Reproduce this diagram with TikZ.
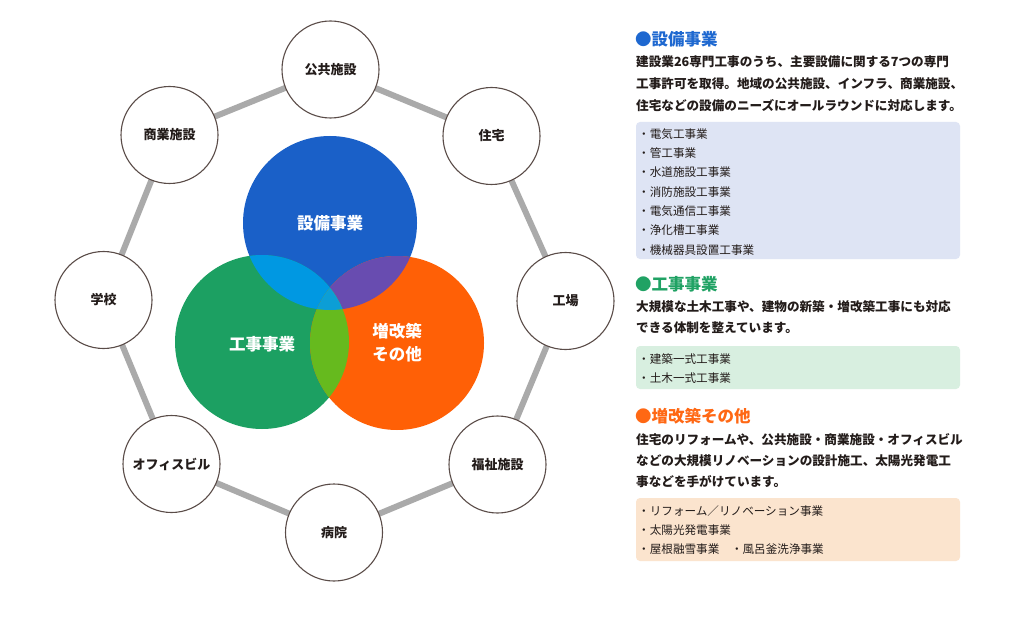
\documentclass[tikz,border=0pt]{standalone}
\usepackage{fontspec}
\setmainfont{Noto Sans CJK JP}
\definecolor{cblue}{RGB}{26,96,200}
\definecolor{cgreen}{RGB}{28,160,98}
\definecolor{corange}{RGB}{255,96,6}
\definecolor{cbg}{RGB}{0,152,226}
\definecolor{cbo}{RGB}{104,76,176}
\definecolor{cgo}{RGB}{102,186,30}
\definecolor{cmid}{RGB}{12,158,214}
\definecolor{cborder}{RGB}{90,76,72}
\definecolor{clink}{RGB}{170,170,170}
\definecolor{ctext}{RGB}{35,28,26}
\definecolor{hblue}{RGB}{30,104,208}
\definecolor{hgreen}{RGB}{32,162,100}
\definecolor{horange}{RGB}{255,104,20}
\definecolor{bxblue}{RGB}{222,228,244}
\definecolor{bxgreen}{RGB}{216,239,224}
\definecolor{bxorange}{RGB}{251,228,206}
\pgfdeclarelayer{bg}
\pgfsetlayers{bg,main}
\tikzset{
  sat/.style={circle, draw=cborder, line width=1.1pt, fill=white, minimum size=97pt, inner sep=0pt,
    font=\fontsize{13}{15}\selectfont\bfseries, text=ctext},
  link/.style={draw=clink, line width=6pt},
  vlabel/.style={text=white, font=\fontsize{16.5}{23}\selectfont\bfseries, align=center, inner sep=0pt},
  head/.style={anchor=west, inner sep=0pt, font=\fontsize{16.5}{18}\selectfont\bfseries},
  body/.style={anchor=west, inner sep=0pt, text=ctext, font=\fontsize{12.6}{15}\selectfont\bfseries},
  item/.style={anchor=west, inner sep=0pt, text=ctext, font=\fontsize{11.6}{13}\selectfont},
  infobox/.style={rounded corners=4pt},
}
\begin{document}
\begin{tikzpicture}[x=1pt,y=-1pt]
\useasboundingbox (0,0) rectangle (1024,636);

% Venn diagram
\fill[cblue] (330,223) circle (87pt);
\fill[cgreen] (262,342) circle (87pt);
\fill[corange] (397,343) circle (87pt);
\begin{scope}
  \clip (330,223) circle (87pt);
  \fill[cbg] (262,342) circle (87pt);
\end{scope}
\begin{scope}
  \clip (330,223) circle (87pt);
  \fill[cbo] (397,343) circle (87pt);
\end{scope}
\begin{scope}
  \clip (262,342) circle (87pt);
  \fill[cgo] (397,343) circle (87pt);
\end{scope}
\begin{scope}
  \clip (330,223) circle (87pt);
  \clip (262,342) circle (87pt);
  \fill[cmid] (397,343) circle (87pt);
\end{scope}
\node[vlabel] (vA) at (330,223) {設備事業};
\node[vlabel] (vB) at (262,344) {工事事業};
\node[vlabel] (vC) at (397,343) {増改築\\その他};

% satellites
\node[sat] (s1) at (330.5,69.5) {公共施設};
\node[sat] (s2) at (491.5,136) {住宅};
\node[sat] (s3) at (565.5,301) {工場};
\node[sat] (s4) at (497.5,464.5) {福祉施設};
\node[sat] (s5) at (334,532.5) {病院};
\node[sat] (s6) at (171.5,464) {オフィスビル};
\node[sat] (s7) at (103.5,300) {学校};
\node[sat] (s8) at (169.5,135) {商業施設};
\begin{pgfonlayer}{bg}
  \fill[white] (0,0) rectangle (1024,636);
  \draw[link] (s1.center) -- (s2.center) -- (s3.center) -- (s4.center) -- (s5.center)
     -- (s6.center) -- (s7.center) -- (s8.center) -- cycle;
\end{pgfonlayer}

% section 1
\node[head, text=hblue] (h1) at (635,39) {●設備事業};
\node[body] (b11) at (636,62) {建設業26専門工事のうち、主要設備に関する7つの専門};
\node[body] (b12) at (636,84) {工事許可を取得。地域の公共施設、インフラ、商業施設、};
\node[body] (b13) at (636,106) {住宅などの設備のニーズにオールラウンドに対応します。};
\fill[bxblue, infobox] (636,122) rectangle (960,259);
\node[item] (i11) at (638,134) {・電気工事業};
\node[item] (i12) at (638,153.3) {・管工事業};
\node[item] (i13) at (638,172.6) {・水道施設工事業};
\node[item] (i14) at (638,191.9) {・消防施設工事業};
\node[item] (i15) at (638,211.2) {・電気通信工事業};
\node[item] (i16) at (638,230.5) {・浄化槽工事業};
\node[item] (i17) at (638,249.8) {・機械器具設置工事業};

% section 2
\node[head, text=hgreen] (h2) at (635,284) {●工事事業};
\node[body] (b21) at (636,307) {大規模な土木工事や、建物の新築・増改築工事にも対応};
\node[body] (b22) at (636,328) {できる体制を整えています。};
\fill[bxgreen, infobox] (636,346) rectangle (960,389);
\node[item] (i21) at (638,359) {・建築一式工事業};
\node[item] (i22) at (638,378) {・土木一式工事業};

% section 3
\node[head, text=horange] (h3) at (635,416) {●増改築その他};
\node[body] (b31) at (636,440) {住宅のリフォームや、公共施設・商業施設・オフィスビル};
\node[body] (b32) at (636,461) {などの大規模リノベーションの設計施工、太陽光発電工};
\node[body] (b33) at (636,482) {事などを手がけています。};
\fill[bxorange, infobox] (636,498) rectangle (960,561);
\node[item] (i31) at (638,511) {・リフォーム／リノベーション事業};
\node[item] (i32) at (638,530) {・太陽光発電事業};
\node[item] (i33) at (638,549) {・屋根融雪事業　・風呂釜洗浄事業};
\end{tikzpicture}
\end{document}
